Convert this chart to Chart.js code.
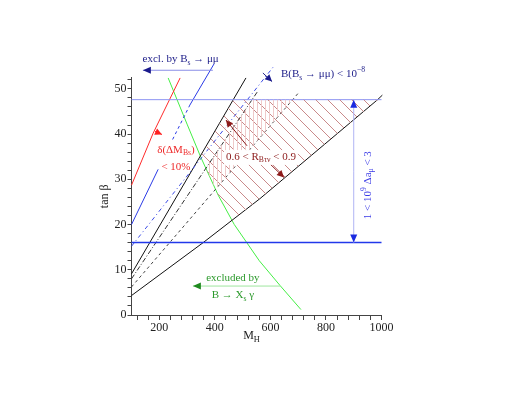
<!DOCTYPE html>
<html>
<head>
<meta charset="utf-8">
<script src="https://cdn.jsdelivr.net/npm/chart.js@4.4.1/dist/chart.umd.min.js"></script>
<style>
  html, body { margin: 0; padding: 0; background: #fff; }
</style>
</head>
<body>
<canvas id="chart" width="515" height="398"></canvas>
<script>
// ---- axis ticks (M_H in GeV, tan beta) ----
const xTicks = [120, 160, 200, 240, 280, 320, 360, 400, 440, 480, 520, 560, 600, 640, 680, 720, 760, 800, 840, 880, 920, 960, 1000];
const xLabels = [200, 400, 600, 800, 1000];
const yTicks = [0, 2, 4, 6, 8, 10, 12, 14, 16, 18, 20, 22, 24, 26, 28, 30, 32, 34, 36, 38, 40, 42, 44, 46, 48, 50, 52];
const yLabels = [0, 10, 20, 30, 40, 50];

// ---- curves, [M_H, tan beta] ----
const gm2Upper = [[100, 47.6], [1000, 47.6]];          // 1 < 10^9 da_mu < 3, upper edge
const gm2Lower = [[100, 16.0], [1000, 16.0]];          // lower edge
const deltaMBs = [[100, 28.7], [178, 40.2], [275, 52.4]];
const bsMuMuExclSolid1 = [[100, 20.0], [196, 32.2]];
const bsMuMuExclDash = [[248, 38.8], [310, 46.4]];
const bsMuMuExclSolid2 = [[310, 46.4], [397, 55.5]];
const bsMuMu1e8 = [[100, 15.2], [610, 54.8]];
const rbtn06 = [[100, 9.1], [512, 52.4]];              // steep solid edge
const rbtnDashA = [[100, 8.0], [556, 49.6]];
const rbtnDashB = [[100, 6.2], [704, 49.3]];
const rbtn09 = [[100, 4.3], [358, 16.0], [562, 25.7], [986, 47.6], [1003, 48.6]];
const bsgamma = [[232, 52.4], [300, 42.2], [350, 34.8], [412, 26.5], [470, 20.0], [560, 12.0], [635, 6.5], [710, 1.2]];

// hatched regions (outline vertices)
const rbtnRegion = [[348, 35.0], [467, 47.6], [986, 47.6], [562, 25.7], [463, 20.9], [412, 26.5], [350, 34.8]];
const dashBandRegion = [[368, 32.5], [534, 47.6], [680, 47.6], [403, 27.8], [368, 32.5]];

const serif = '"Liberation Serif", "DejaVu Serif", serif';

function pts(a) { return a.map(p => ({ x: p[0], y: p[1] })); }

function line(a, color, width, dash) {
  return {
    data: pts(a), showLine: true, borderColor: color, borderWidth: width,
    borderDash: dash || [], pointRadius: 0, fill: false, clip: false, tension: 0
  };
}

function hatch(kind, color) {
  const c = document.createElement('canvas');
  const s = kind === 'diag' ? 12 : 4;
  c.width = s; c.height = s;
  const g = c.getContext('2d');
  g.strokeStyle = color; g.lineWidth = 1;
  g.beginPath();
  if (kind === 'diag') {
    g.moveTo(-1, -1); g.lineTo(s + 1, s + 1);
    g.moveTo(-1, s - 1); g.lineTo(1, s + 1);
    g.moveTo(s - 1, -1); g.lineTo(s + 1, 1);
  } else {
    g.moveTo(1.5, 0); g.lineTo(1.5, s);
  }
  g.stroke();
  return g.createPattern(c, 'repeat');
}

function region(a, pattern) {
  return {
    data: pts(a), showLine: true, borderWidth: 0, borderColor: 'rgba(0,0,0,0)',
    backgroundColor: pattern, pointRadius: 0, fill: 'shape', tension: 0
  };
}

function rich(ctx, parts, x, y, size, color, align, bg) {
  let w = 0;
  for (const [t, m] of parts) {
    ctx.font = (m ? size * 0.7 : size) + 'px ' + serif;
    w += ctx.measureText(t).width;
  }
  let cx = align === 'left' ? x : x - w / 2;
  if (bg) {
    ctx.fillStyle = bg;
    ctx.fillRect(cx - 2, y - size * 0.6, w + 4, size * 1.35);
  }
  ctx.fillStyle = color;
  ctx.textBaseline = 'middle';
  ctx.textAlign = 'left';
  for (const [t, m] of parts) {
    ctx.font = (m ? size * 0.7 : size) + 'px ' + serif;
    const dy = m === -1 ? size * 0.3 : (m === 1 ? -size * 0.38 : 0);
    ctx.fillText(t, cx, y + dy);
    cx += ctx.measureText(t).width;
  }
}

function arrow(ctx, x1, y1, x2, y2, lineCol, headCol, len, half) {
  ctx.strokeStyle = lineCol; ctx.lineWidth = 1; ctx.setLineDash([]);
  ctx.beginPath(); ctx.moveTo(x1, y1); ctx.lineTo(x2, y2); ctx.stroke();
  const a = Math.atan2(y2 - y1, x2 - x1);
  ctx.fillStyle = headCol;
  ctx.beginPath();
  ctx.moveTo(x2, y2);
  ctx.lineTo(x2 - len * Math.cos(a) + half * Math.sin(a), y2 - len * Math.sin(a) - half * Math.cos(a));
  ctx.lineTo(x2 - len * Math.cos(a) - half * Math.sin(a), y2 - len * Math.sin(a) + half * Math.cos(a));
  ctx.closePath(); ctx.fill();
}

const labels = {
  id: 'labels',
  afterDatasetsDraw(chart) {
    const { ctx, scales: { x, y }, chartArea } = chart;
    const X = v => x.getPixelForValue(v), Y = v => y.getPixelForValue(v);
    ctx.save();

    // B_s -> mu mu exclusion
    rich(ctx, [['excl. by B', 0], ['s', -1], [' \u2192 \u03bc\u03bc', 0]], X(277), Y(56.5), 11, '#23238c');
    arrow(ctx, X(393), Y(54.1), X(141), Y(54.1), '#8a8ee8', '#1a1a8c', 8, 3.5);
    rich(ctx, [['B(B', 0], ['s', -1], [' \u2192 \u03bc\u03bc) < 10', 0], ['\u22128', 1]], X(638), Y(53.2), 11, '#23238c', 'left');
    arrow(ctx, X(573), Y(53.5), X(606), Y(51.6), '#23238c', '#1a1a8c', 7, 3.5);

    // delta Delta M_Bs
    arrow(ctx, X(184.6), Y(40.6), X(209.8), Y(39.9), '#ff3030', '#ff2020', 7, 3.5);
    rich(ctx, [['\u03b4(\u0394M', 0], ['Bs', -1], [')', 0]], X(260), Y(36.5), 11, '#ee2a2a');
    rich(ctx, [['< 10%', 0]], X(260), Y(32.7), 11, '#ee2a2a');

    // R_Btaunu
    arrow(ctx, X(516), Y(37.4), X(440), Y(43.1), '#8c1a1a', '#8c1a1a', 7, 3.5);
    arrow(ctx, X(598.6), Y(33.4), X(649), Y(30.4), '#8c1a1a', '#8c1a1a', 7, 3.5);
    rich(ctx, [['0.6 < R', 0], ['B\u03c4\u03bd', -1], [' < 0.9', 0]], X(566), Y(35.0), 11, '#8c1a1a', 'center', '#fff');

    // B -> X_s gamma
    rich(ctx, [['excluded by', 0]], X(465), Y(8.1), 11, '#2c9a2c');
    rich(ctx, [['B \u2192 X', 0], ['s', -1], [' \u03b3', 0]], X(465), Y(4.3), 11, '#2c9a2c');
    arrow(ctx, X(634.6), Y(6.4), X(321), Y(6.4), '#9ee69e', '#1f8a1f', 8, 3.5);

    // g-2 band
    arrow(ctx, X(900), Y(31.8), X(900), Y(47.6), '#b0b4f4', '#1a2ae0', 8, 3.5);
    arrow(ctx, X(900), Y(31.8), X(900), Y(16.0), '#b0b4f4', '#1a2ae0', 8, 3.5);
    ctx.save();
    ctx.translate(X(951), Y(28.7));
    ctx.rotate(-Math.PI / 2);
    rich(ctx, [['1 < 10', 0], ['9', 1], [' \u0394a', 0], ['\u03bc', -1], [' < 3', 0]], 0, 0, 11, '#3a3ae6');
    ctx.restore();

    // axis titles
    rich(ctx, [['M', 0], ['H', -1]], (chartArea.left + chartArea.right) / 2 - 5, chartArea.bottom + 21, 12, '#222');
    ctx.save();
    ctx.translate(chartArea.left - 27, (chartArea.top + chartArea.bottom) / 2);
    ctx.rotate(-Math.PI / 2);
    rich(ctx, [['tan \u03b2', 0]], 0, 0, 12, '#222');
    ctx.restore();

    ctx.restore();
  }
};

const datasets = [
  region(dashBandRegion, hatch('vert', '#efcaca')),
  region(rbtnRegion, hatch('diag', '#c98a8a')),
  line(gm2Upper, '#8c94f2', 1),
  line(gm2Lower, '#2238ea', 1.5),
  line(deltaMBs, '#ff2a2a', 1),
  line(bsMuMuExclSolid1, '#2a3ae6', 1),
  line(bsMuMuExclDash, '#2a3ae6', 1, [3, 3]),
  line(bsMuMuExclSolid2, '#2a3ae6', 1),
  line(bsMuMu1e8, '#3a4ae6', 1, [4, 3, 1, 3]),
  line(rbtn06, '#111', 1),
  line(rbtnDashA, '#333', 1, [5, 2, 1, 2]),
  line(rbtnDashB, '#444', 1, [3, 3]),
  line(rbtn09, '#111', 1),
  line(bsgamma, '#44ee44', 1)
];

new Chart(document.getElementById('chart'), {
  type: 'scatter',
  data: { datasets },
  options: {
    responsive: false,
    animation: false,
    devicePixelRatio: 1,
    layout: { padding: { left: 96.5, right: 133.5, top: 77.5, bottom: 58 } },
    plugins: { legend: { display: false }, tooltip: { enabled: false } },
    scales: {
      x: {
        type: 'linear', min: 100, max: 1000,
        afterBuildTicks: axis => { axis.ticks = xTicks.map(v => ({ value: v })); },
        afterFit: axis => { axis.height = 25; },
        border: { display: true, color: '#444', width: 1 },
        grid: { drawOnChartArea: false, drawTicks: true, tickLength: 5, color: '#444' },
        ticks: {
          autoSkip: false, maxRotation: 0, padding: 1, color: '#222',
          font: { family: serif, size: 12 },
          callback: v => xLabels.includes(v) ? String(v) : ''
        }
      },
      y: {
        type: 'linear', min: 0, max: 52.5,
        afterBuildTicks: axis => { axis.ticks = yTicks.map(v => ({ value: v })); },
        afterFit: axis => { axis.width = 35; },
        border: { display: true, color: '#444', width: 1 },
        grid: { drawOnChartArea: false, drawTicks: true, tickLength: 4, color: '#444' },
        ticks: {
          autoSkip: false, padding: 1, color: '#222',
          font: { family: serif, size: 12 },
          callback: v => yLabels.includes(v) ? String(v) : ''
        }
      }
    }
  },
  plugins: [labels]
});
</script>
</body>
</html>
